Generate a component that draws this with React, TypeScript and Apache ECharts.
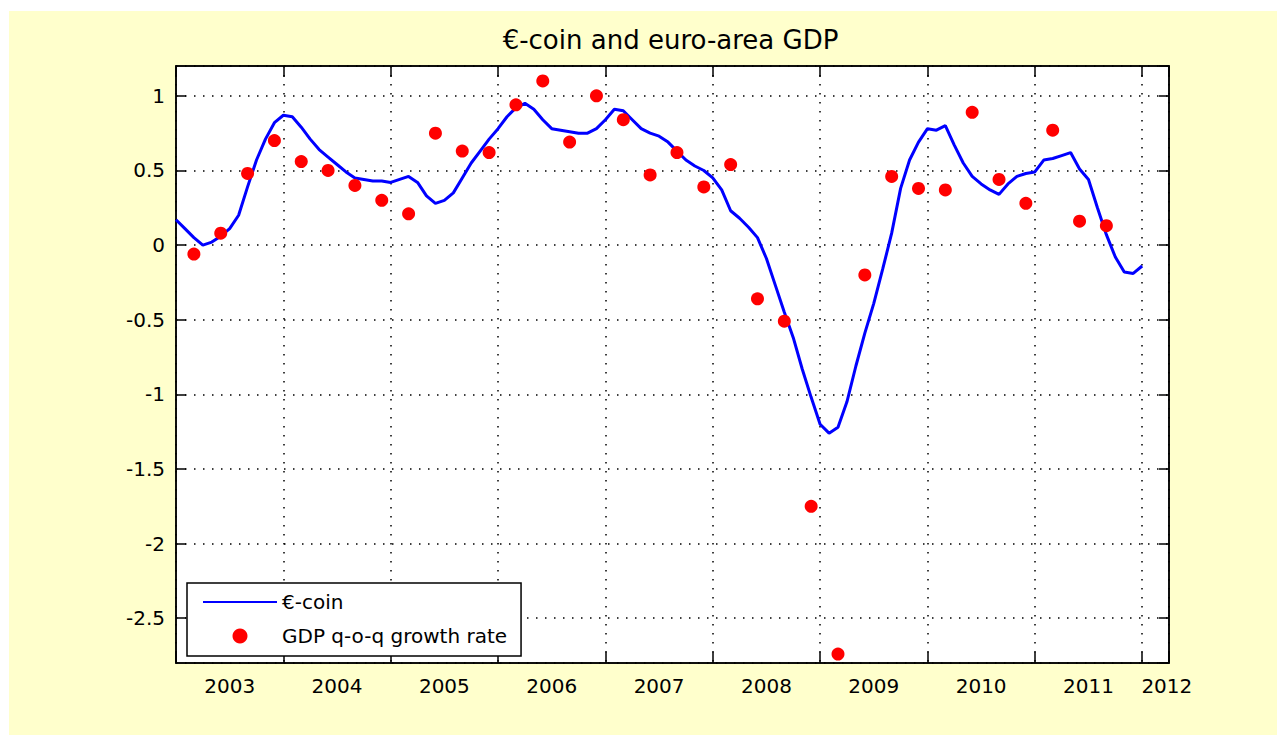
import React, { useEffect, useRef } from 'react';
import * as echarts from 'echarts';

const titleText = '€-coin and euro-area GDP';
const coinName = '€-coin';
const gdpName = 'GDP q-o-q growth rate';

// monthly €-coin, Jan 2003 .. Jan 2012
const coinStartYear = 2003;
const coinValues = [
  0.17, 0.11, 0.05, 0.0, 0.02, 0.06, 0.11, 0.2, 0.39, 0.57, 0.71, 0.82,
  0.87, 0.86, 0.79, 0.71, 0.64, 0.59, 0.54, 0.49, 0.45, 0.44, 0.43, 0.43,
  0.42, 0.44, 0.46, 0.42, 0.33, 0.28, 0.3, 0.35, 0.45, 0.55, 0.63, 0.71,
  0.78, 0.86, 0.92, 0.95, 0.91, 0.84, 0.78, 0.77, 0.76, 0.75, 0.75, 0.78,
  0.84, 0.91, 0.9, 0.84, 0.78, 0.75, 0.73, 0.69, 0.63, 0.57, 0.53, 0.5,
  0.45, 0.37, 0.23, 0.18, 0.12, 0.05, -0.09, -0.27, -0.45, -0.62, -0.83, -1.02,
  -1.2, -1.26, -1.22, -1.05, -0.81, -0.59, -0.39, -0.16, 0.08, 0.38, 0.57, 0.69,
  0.78, 0.77, 0.8, 0.67, 0.55, 0.46, 0.41, 0.37, 0.34, 0.41, 0.46, 0.48,
  0.49, 0.57, 0.58, 0.6, 0.62, 0.51, 0.44, 0.25, 0.07, -0.08, -0.18, -0.19,
  -0.14,
];

// quarterly GDP growth, 2003Q1 .. 2011Q3 (plotted at last month of quarter)
const gdpStartYear = 2003;
const gdpValues = [
  -0.06, 0.08, 0.48, 0.7, 0.56, 0.5, 0.4, 0.3, 0.21, 0.75, 0.63, 0.62,
  0.94, 1.1, 0.69, 1.0, 0.84, 0.47, 0.62, 0.39, 0.54, -0.36, -0.51, -1.75,
  -2.74, -0.2, 0.46, 0.38, 0.37, 0.89, 0.44, 0.28, 0.77, 0.16, 0.13,
];

const yearLabels = ['2003', '2004', '2005', '2006', '2007', '2008', '2009', '2010', '2011', '2012'];
const yearLabelPositions = [2003.5, 2004.5, 2005.5, 2006.5, 2007.5, 2008.5, 2009.5, 2010.5, 2011.5, 2012.23];

const xMin = 2003;
const xMax = 2012.25;
const yMin = -2.8;
const yMax = 1.2;

const FONT = 'DejaVu Sans';

export default function App() {
  const ref = useRef<HTMLDivElement>(null);

  useEffect(() => {
    if (!ref.current) return;
    const chart = echarts.init(ref.current, null, { renderer: 'svg' });

    const coinData = coinValues.map((v, i) => [coinStartYear + i / 12, v]);
    const gdpData = gdpValues.map((v, k) => [gdpStartYear + (3 * k + 2) / 12, v]);
    const labelData = yearLabelPositions.map((x) => [x, yMin]);

    const gridLine = { show: true, lineStyle: { type: [1.5, 7.5], color: '#000', width: 1.5 } };
    const axisLine = { show: true, onZero: false, lineStyle: { color: '#000', width: 1.5 } };
    const tick = (len: number) => ({ show: true, inside: true, length: len, lineStyle: { color: '#000', width: 1.5 } });

    chart.setOption({
      animation: false,
      backgroundColor: '#FFFFCC',
      graphic: [
        {
          type: 'text',
          x: 661.5,
          y: 28.5,
          style: {
            text: titleText,
            align: 'center',
            verticalAlign: 'middle',
            fontSize: 26,
            fontFamily: FONT,
            fill: '#000',
          },
        },
      ],
      grid: {
        left: 167,
        top: 55,
        width: 993,
        height: 597,
        show: true,
        backgroundColor: '#fff',
        borderColor: '#000',
        borderWidth: 1.5,
      },
      legend: {
        data: [{ name: coinName, itemStyle: { opacity: 0 } }, { name: gdpName }],
        orient: 'vertical',
        left: 178,
        top: 572,
        padding: [9, 14, 10, 15],
        itemGap: 14,
        itemWidth: 74,
        itemHeight: 15,
        backgroundColor: '#fff',
        borderColor: '#000',
        borderWidth: 1.5,
        borderRadius: 0,
        selectedMode: false,
        textStyle: { fontSize: 20, fontFamily: FONT, color: '#000' },
      },
      xAxis: [
        {
          type: 'value',
          min: xMin,
          max: xMax,
          interval: 1,
          axisLine,
          axisTick: tick(11),
          axisLabel: { show: false },
          splitLine: gridLine,
        },
        {
          type: 'value',
          position: 'top',
          min: xMin,
          max: xMax,
          interval: 1,
          axisLine,
          axisTick: tick(11),
          axisLabel: { show: false },
          splitLine: { show: false },
        },
      ],
      yAxis: [
        {
          type: 'value',
          min: yMin,
          max: yMax,
          splitNumber: 8,
          axisLine,
          axisTick: tick(10),
          axisLabel: {
            show: true,
            margin: 11,
            fontSize: 20,
            fontFamily: FONT,
            color: '#000',
            showMinLabel: false,
            showMaxLabel: false,
          },
          splitLine: gridLine,
        },
        {
          type: 'value',
          position: 'right',
          min: yMin,
          max: yMax,
          splitNumber: 8,
          axisLine,
          axisTick: tick(10),
          axisLabel: { show: false },
          splitLine: { show: false },
        },
      ],
      series: [
        {
          name: coinName,
          type: 'line',
          data: coinData,
          showSymbol: false,
          symbol: 'none',
          color: '#0000FF',
          lineStyle: { color: '#0000FF', width: 3 },
          emphasis: { disabled: true },
          z: 3,
        },
        {
          name: gdpName,
          type: 'scatter',
          data: gdpData,
          symbol: 'circle',
          symbolSize: 13,
          itemStyle: { color: '#FF0000', opacity: 1 },
          emphasis: { disabled: true },
          z: 4,
        },
        {
          name: 'yearLabels',
          type: 'custom',
          data: labelData,
          silent: true,
          clip: false,
          encode: { x: 0, y: 1 },
          renderItem: (params: any, api: any) => {
            const p = api.coord([api.value(0), api.value(1)]);
            return {
              type: 'text',
              x: p[0],
              y: p[1] + 13,
              style: {
                text: yearLabels[params.dataIndex],
                align: 'center',
                verticalAlign: 'top',
                fontSize: 20,
                fontFamily: FONT,
                fill: '#000',
              },
            };
          },
          z: 5,
        },
      ],
    });

    return () => chart.dispose();
  }, []);

  return (
    <div style={{ position: 'absolute', left: 0, top: 0, width: 1277, height: 735, background: '#fff' }}>
      <div ref={ref} style={{ position: 'absolute', left: 9, top: 11, width: 1268, height: 724 }} />
    </div>
  );
}
